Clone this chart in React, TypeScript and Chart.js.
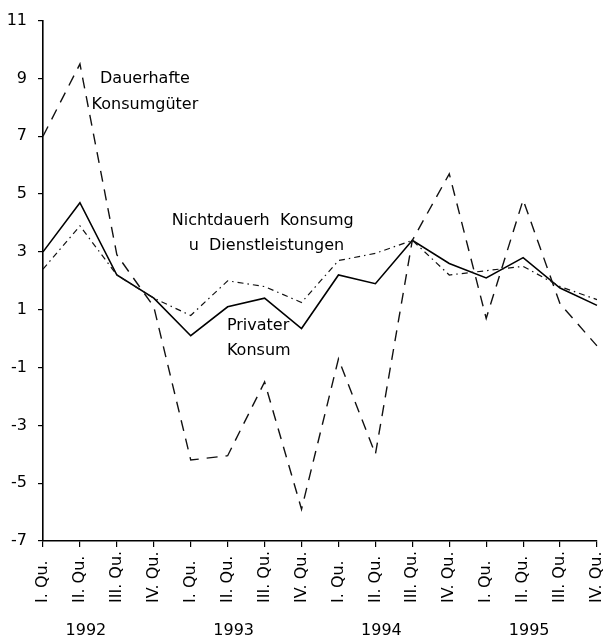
import React, { useEffect, useRef } from "react";
import { Chart, registerables } from "chart.js";

Chart.register(...registerables);

const quarterLabels = [
  "I. Qu.", "II. Qu.", "III. Qu.", "IV. Qu.",
  "I. Qu.", "II. Qu.", "III. Qu.", "IV. Qu.",
  "I. Qu.", "II. Qu.", "III. Qu.", "IV. Qu.",
  "I. Qu.", "II. Qu.", "III. Qu.", "IV. Qu.",
];
const years = ["1992", "1993", "1994", "1995"];

const privaterKonsum = [3.0, 4.7, 2.2, 1.4, 0.1, 1.1, 1.4, 0.35, 2.2, 1.9, 3.4, 2.6, 2.1, 2.8, 1.75, 1.15];
const nichtdauerhKonsum = [2.4, 3.9, 2.2, 1.4, 0.8, 2.0, 1.8, 1.25, 2.7, 2.95, 3.4, 2.2, 2.35, 2.5, 1.8, 1.35];
const dauerhafteKonsum = [7.0, 9.5, 2.9, 1.1, -4.2, -4.05, -1.5, -5.9, -0.7, -4.0, 3.4, 5.7, 0.7, 4.8, 1.2, -0.25];

const yMin = -7;
const yMax = 11;
const yStep = 2;

// Text labels placed in data coordinates (category index, value)
const annotations = [
  { text: "Dauerhafte", i: 2.76, v: 9.0, align: "center" },
  { text: "Konsumgüter", i: 2.76, v: 8.1, align: "center" },
  { text: "Nichtdauerh  Konsumg", i: 5.95, v: 4.07, align: "center" },
  { text: "u  Dienstleistungen", i: 6.05, v: 3.2, align: "center" },
  { text: "Privater", i: 4.98, v: 0.45, align: "left" },
  { text: "Konsum", i: 4.98, v: -0.41, align: "left" },
];

const FONT = "'DejaVu Sans', 'Noto Sans', sans-serif";

const overlayPlugin = {
  id: "overlay",
  afterDraw(chart: any) {
    const ctx = chart.ctx as CanvasRenderingContext2D;
    const xs = chart.scales.x;
    const ys = chart.scales.y;
    ctx.save();
    ctx.fillStyle = "#000";
    // rotated quarter labels
    ctx.font = `16px ${FONT}`;
    quarterLabels.forEach((lab, i) => {
      const x = xs.getPixelForValue(i);
      ctx.save();
      ctx.translate(x, xs.top + 62);
      ctx.rotate(-Math.PI / 2);
      ctx.textAlign = "left";
      ctx.textBaseline = "middle";
      ctx.fillText(lab, 0, 0);
      ctx.restore();
    });
    // year labels
    ctx.font = `16px ${FONT}`;
    ctx.textAlign = "center";
    ctx.textBaseline = "middle";
    years.forEach((y, k) => {
      const x = xs.getPixelForValue(k * 4 + 1) + 6;
      ctx.fillText(y, x, xs.top + 90);
    });
    // annotations
    ctx.font = `16px ${FONT}`;
    annotations.forEach((a) => {
      ctx.textAlign = a.align as CanvasTextAlign;
      ctx.textBaseline = "middle";
      ctx.fillText(a.text, xs.getPixelForValue(a.i), ys.getPixelForValue(a.v));
    });
    ctx.restore();
  },
};

export default function App() {
  const ref = useRef<HTMLCanvasElement | null>(null);
  useEffect(() => {
    if (!ref.current) return;
    const chart = new Chart(ref.current, {
      type: "line",
      data: {
        labels: quarterLabels,
        datasets: [
          {
            label: "Dauerhafte Konsumgüter",
            data: dauerhafteKonsum,
            borderColor: "#111",
            borderWidth: 1.4,
            borderDash: [11, 8],
            pointRadius: 0,
            tension: 0,
            fill: false,
          },
          {
            label: "Nichtdauerh Konsumg u Dienstleistungen",
            data: nichtdauerhKonsum,
            borderColor: "#111",
            borderWidth: 1.2,
            borderDash: [6, 4, 1.5, 4],
            pointRadius: 0,
            tension: 0,
            fill: false,
          },
          {
            label: "Privater Konsum",
            data: privaterKonsum,
            borderColor: "#000",
            borderWidth: 1.6,
            pointRadius: 0,
            tension: 0,
            fill: false,
          },
        ],
      },
      options: {
        animation: false,
        responsive: false,
        devicePixelRatio: 1,
        layout: { padding: { top: 19, right: 6, left: 0, bottom: 0 } },
        plugins: {
          legend: { display: false },
          tooltip: { enabled: false },
        },
        scales: {
          x: {
            type: "category",
            offset: false,
            ticks: { display: false },
            grid: {
              display: true,
              drawOnChartArea: false,
              drawTicks: true,
              tickLength: 6,
              color: "#000",
              lineWidth: 1.2,
            },
            border: { display: true, color: "#000", width: 1.6 },
            afterFit: (scale: any) => {
              scale.height = 101;
            },
          },
          y: {
            min: yMin,
            max: yMax,
            ticks: {
              stepSize: yStep,
              color: "#000",
              font: { size: 16, family: FONT },
              padding: 11,
            },
            grid: {
              display: true,
              drawOnChartArea: false,
              drawTicks: true,
              tickLength: 5,
              color: "#000",
              lineWidth: 1.2,
            },
            border: { display: true, color: "#000", width: 1.6 },
            afterFit: (scale: any) => {
              scale.width = 43;
            },
          },
        },
      },
      plugins: [overlayPlugin],
    });
    return () => chart.destroy();
  }, []);
  return (
    <div style={{ position: "absolute", left: 0, top: 0, width: 603, height: 642, background: "#fff" }}>
      <canvas ref={ref} width={603} height={642} />
    </div>
  );
}
